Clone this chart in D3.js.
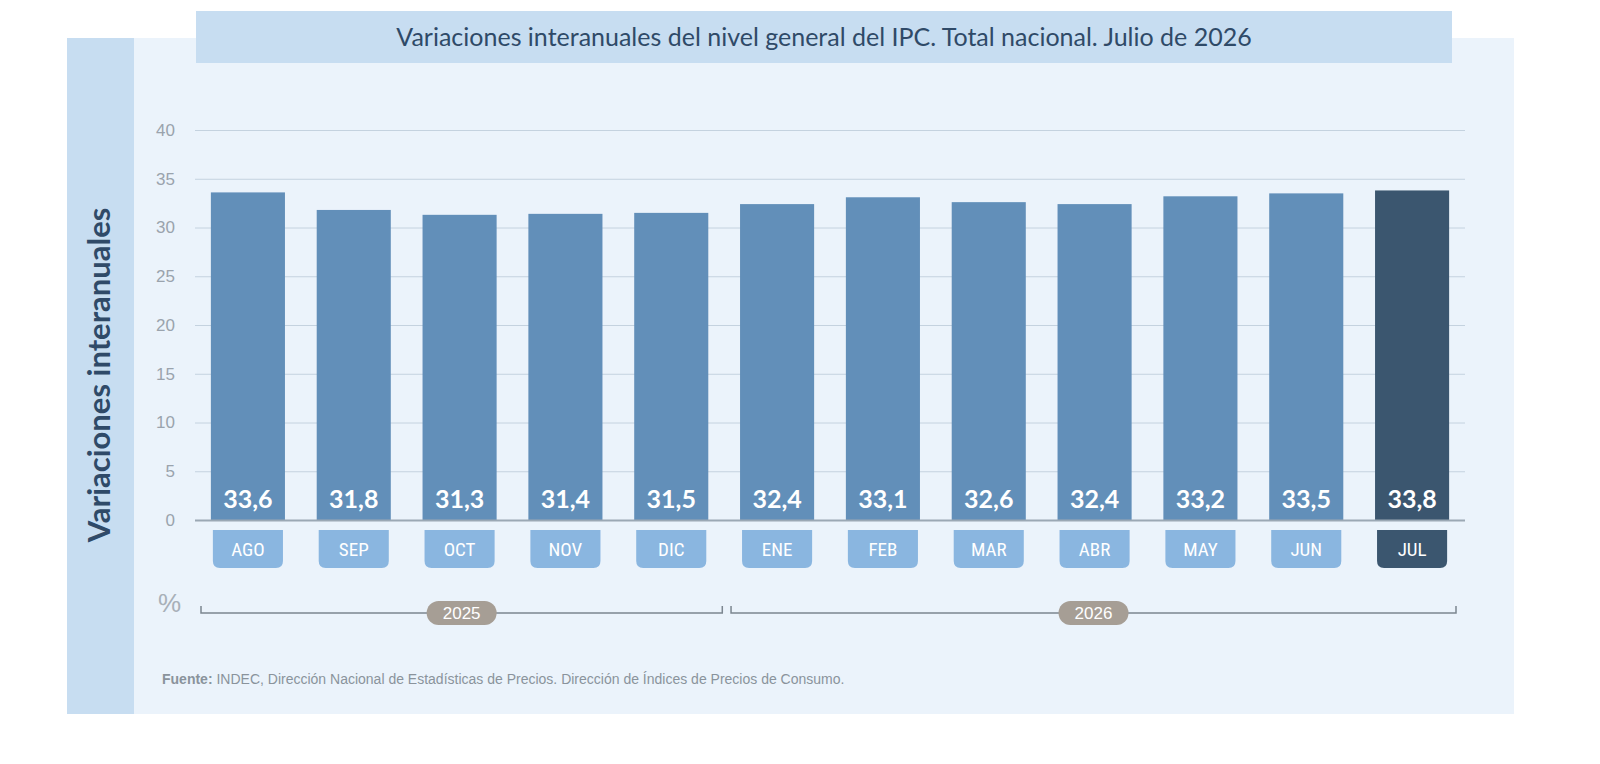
<!DOCTYPE html>
<html><head><meta charset="utf-8">
<script src="https://cdn.jsdelivr.net/npm/d3@7"></script>
<style>body{margin:0;background:#fff}</style></head>
<body><script>
const months = ['AGO','SEP','OCT','NOV','DIC','ENE','FEB','MAR','ABR','MAY','JUN','JUL'];
const values = [33.6,31.8,31.3,31.4,31.5,32.4,33.1,32.6,32.4,33.2,33.5,33.8];
const yTicks = [0,5,10,15,20,25,30,35,40];
const years = [{label:'2025', from:'AGO', to:'DIC'},{label:'2026', from:'ENE', to:'JUL'}];

const svg = d3.select('body').append('svg').attr('width',1600).attr('height',764);
svg.append('rect').attr('x',67).attr('y',38).attr('width',1447).attr('height',676).attr('fill','#ebf3fb');
svg.append('rect').attr('x',67).attr('y',38).attr('width',67).attr('height',676).attr('fill','#c7ddf1');
svg.append('rect').attr('x',196).attr('y',11).attr('width',1256).attr('height',52).attr('fill','#c7ddf1');
svg.append('text').attr('x',824).attr('y',46).attr('text-anchor','middle')
  .attr('font-family','Lato, "Noto Sans", sans-serif').attr('font-size',25).attr('fill','#2f4a68')
  .text('Variaciones interanuales del nivel general del IPC. Total nacional. Julio de 2026');
svg.append('text').attr('transform','translate(110,375) rotate(-90)').attr('text-anchor','middle')
  .attr('font-family','Lato, "Noto Sans", sans-serif').attr('font-weight',700).attr('font-size',31).attr('fill','#2f4a68')
  .text('Variaciones interanuales');

const x = d3.scaleBand().domain(months).range([195,1465]).paddingInner(0.3).paddingOuter(0.15);
const y = d3.scaleLinear().domain([0,40]).range([520,130]);

const yAxis = svg.append('g').attr('transform','translate(195,0)')
  .call(d3.axisLeft(y).tickValues(yTicks).tickSize(-1270).tickPadding(20));
yAxis.select('.domain').remove();
yAxis.selectAll('line').attr('stroke','#c4d2df');
yAxis.selectAll('text').attr('font-family','"Liberation Sans", Arial, sans-serif').attr('font-size',17).attr('fill','#9aa3ad');

svg.selectAll('.bar').data(values).join('rect')
  .attr('x',(d,i)=>x(months[i])).attr('y',d=>y(d)).attr('width',x.bandwidth()).attr('height',d=>y(0)-y(d))
  .attr('fill',(d,i)=>i===11?'#3b566f':'#628fb9');
svg.append('line').attr('x1',195).attr('x2',1465).attr('y1',520.5).attr('y2',520.5).attr('stroke','#9ba8b4').attr('stroke-width',2);

svg.selectAll('.val').data(values).join('text')
  .attr('x',(d,i)=>x(months[i])+x.bandwidth()/2).attr('y',508).attr('text-anchor','middle')
  .attr('font-family','Lato, "Open Sans", sans-serif').attr('font-weight',700).attr('font-size',25).attr('fill','#fff')
  .text(d=>d3.format('.1f')(d).replace('.',','));

const bw = x.bandwidth()-4;
svg.selectAll('.mbox').data(months).join('path')
  .attr('d',m=>{const x0=x(m)+2,y0=530,w=bw,h=38,r=7;
    return `M${x0},${y0}h${w}v${h-r}q0,${r} ${-r},${r}h${-(w-2*r)}q${-r},0 ${-r},${-r}z`;})
  .attr('fill',(m,i)=>i===11?'#3b566f':'#8ab6e0');
svg.selectAll('.mtxt').data(months).join('text')
  .attr('x',m=>x(m)+x.bandwidth()/2).attr('y',556).attr('text-anchor','middle')
  .attr('font-family','"Liberation Sans Narrow", "Roboto Condensed", Roboto, sans-serif').attr('font-size',19).attr('fill','#fff')
  .text(m=>m);

svg.append('text').attr('x',158).attr('y',612).attr('font-family','"Liberation Sans", Arial, sans-serif').attr('font-size',26).attr('fill','#a8b0b8').text('%');

years.forEach((yr,i)=>{
  const x0 = i===0 ? 201 : x(yr.from)-9, x1 = i===0 ? x(yr.to)+x.bandwidth()+14 : 1456;
  svg.append('path').attr('d',`M${x0},606V613H${x1}V606`).attr('fill','none').attr('stroke','#7c8690').attr('stroke-width',1.5);
  const cx = (x0+x1)/2;
  svg.append('rect').attr('x',cx-35).attr('y',601).attr('width',70).attr('height',24).attr('rx',12).attr('fill','#a69e95');
  svg.append('text').attr('x',cx).attr('y',619).attr('text-anchor','middle')
    .attr('font-family','"Liberation Sans", Arial, sans-serif').attr('font-size',17).attr('fill','#fff').text(yr.label);
});

const src = svg.append('text').attr('x',162).attr('y',684).attr('font-family','"Liberation Sans", Arial, sans-serif').attr('font-size',14).attr('fill','#8a939c');
src.append('tspan').attr('font-weight',700).text('Fuente:');
src.append('tspan').text(' INDEC, Dirección Nacional de Estadísticas de Precios. Dirección de Índices de Precios de Consumo.');
</script></body></html>
